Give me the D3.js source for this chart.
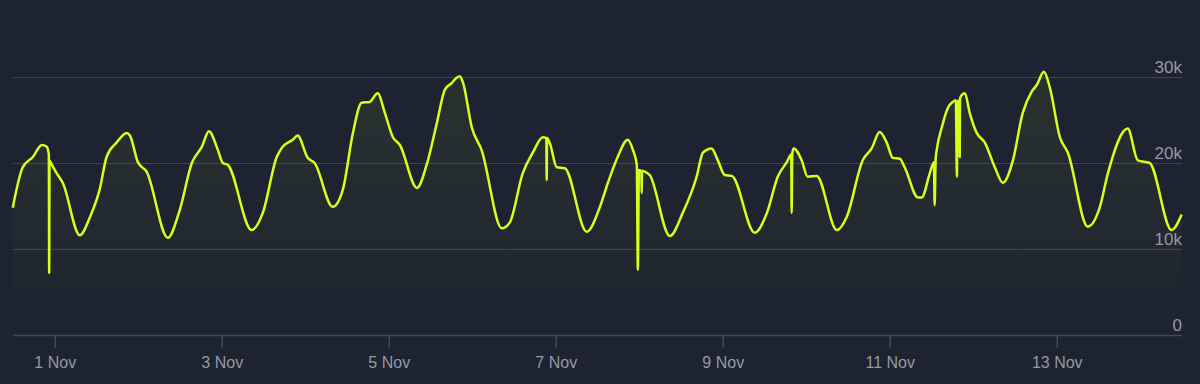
<!DOCTYPE html>
<html>
<head>
  <meta charset="utf-8">
  <script src="https://cdnjs.cloudflare.com/ajax/libs/d3/7.8.5/d3.min.js"></script>
  <title>players</title>
  <style>
    html, body { margin: 0; padding: 0; background: #1d2331; }
    svg { display: block; }
  </style>
</head>
<body>
<script>
// hours after 1 Nov 00:00, and players (thousands)
var horas = [-12.07,-9.2,-6.3,-3.7,-2.3,-1.7,-1.6,-1.5,-1.24,0.57,2.3,7.2,10.1,12.9,14.9,17.8,20.7,21.6,23.9,26.4,
  32.5,35.9,39.4,42.3,44.3,46.9,48.3,49.7,56.6,59.8,63.8,65.5,68.4,69.8,72.7,74.7,79.9,82.8,85.7,88.2,
  90.5,92.8,94.9,97.2,99.2,104.1,106.9,109.8,112.1,114.1,115.5,116.4,117.3,119.9,122.7,128.5,130.8,134.5,137.4,140.3,
  141.3,141.4,141.5,142.3,144.3,146.6,152.9,156.7,159.0,161.8,164.7,166.2,167.3,167.6,167.9,168.6,168.7,168.8,169.6,171.0,
  176.8,180.5,184.5,186.3,188.8,190.6,192.6,194.6,201.2,204.7,207.8,210.4,211.7,211.8,212.0,212.4,214.7,216.4,219.0,224.8,
  227.6,232.2,234.8,237.1,239.1,240.9,242.9,244.3,248.1,249.2,251.5,252.7,252.9,253.2,253.5,255.0,256.7,258.1,259.0,259.3,
  259.5,259.9,260.1,260.2,260.7,261.6,263.0,265.0,267.3,270.2,272.5,275.4,278.2,280.8,282.3,284.3,286.0,288.9,291.2,296.9,
  300.4,302.7,308.4,311.3,314.7,321.0,323.9];
var jugadores = [14.8,19.5,20.7,22.1,21.9,21.0,7.2,20.3,20.1,18.8,17.7,11.6,13.7,16.9,20.7,22.4,23.5,23.2,20.1,19.0,
  11.3,14.5,20.0,21.9,23.7,21.5,20.0,19.8,12.2,14.2,20.7,21.9,22.7,23.2,20.6,20.0,14.9,16.9,23.5,27.0,
  27.1,28.1,25.8,23.0,22.1,17.1,19.8,24.6,28.5,29.3,29.9,30.1,29.4,24.1,21.5,12.4,13.1,18.8,21.2,23.0,
  22.9,18.0,22.9,22.3,19.5,19.4,12.0,14.9,17.7,20.7,22.7,21.5,19.8,7.6,19.2,19.0,16.5,19.1,19.0,18.6,
  11.5,14.2,18.4,21.2,21.7,20.3,18.6,18.5,11.9,14.2,18.4,20.1,21.0,14.2,21.2,21.7,20.3,18.4,18.5,12.2,
  13.7,20.3,21.7,23.6,22.4,20.6,20.5,19.5,16.0,16.0,18.8,20.1,15.1,20.5,21.5,24.2,26.4,27.1,27.3,18.4,
  27.2,27.2,20.7,27.5,27.9,28.1,25.8,23.5,22.4,19.5,17.7,20.3,25.8,28.3,29.1,30.6,28.8,23.0,21.2,12.6,
  14.9,18.8,24.0,20.3,20.0,12.2,14.0];
var ticksY = [0, 10, 20, 30];
var etiquetasY = ["0", "10k", "20k", "30k"];
var diasX = [1, 3, 5, 7, 9, 11, 13];

var inicio = new Date(2023, 10, 1);
var datos = horas.map(function(h, i) {
  return { t: new Date(inicio.getTime() + h * 3600000), v: jugadores[i] };
});

var W = 1200, H = 384;
var svg = d3.select("body").append("svg").attr("width", W).attr("height", H);

var x = d3.scaleTime()
  .domain([new Date(inicio.getTime() - 12 * 3600000), new Date(inicio.getTime() + (13 * 24 + 12) * 3600000)])
  .range([13, 1182]);
var y = d3.scaleLinear().domain([0, 30]).range([335, 77]);

var defs = svg.append("defs");
var grad = defs.append("linearGradient").attr("id", "relleno").attr("x1", 0).attr("y1", 0).attr("x2", 0).attr("y2", 1);
grad.append("stop").attr("offset", "0%").attr("stop-color", "#d6ff1a").attr("stop-opacity", 0.07);
grad.append("stop").attr("offset", "100%").attr("stop-color", "#d6ff1a").attr("stop-opacity", 0.0);

// grid
svg.selectAll(".grid").data(ticksY.slice(1)).enter().append("line")
  .attr("x1", 13).attr("x2", 1182)
  .attr("y1", function(d) { return y(d) + 0.5; })
  .attr("y2", function(d) { return y(d) + 0.5; })
  .attr("stroke", "#3b4354").attr("stroke-width", 1);

// area + line
var area = d3.area().x(function(d) { return x(d.t); }).y0(y(0)).y1(function(d) { return y(d.v); })
  .curve(d3.curveMonotoneX);
var linea = d3.line().x(function(d) { return x(d.t); }).y(function(d) { return y(d.v); })
  .curve(d3.curveMonotoneX);

svg.append("path").datum(datos).attr("d", area).attr("fill", "url(#relleno)");
svg.append("path").datum(datos).attr("d", linea)
  .attr("fill", "none").attr("stroke", "#d8ff1c").attr("stroke-width", 2.5)
  .attr("stroke-linejoin", "round");

// x axis
var ejeX = d3.axisBottom(x)
  .tickValues(diasX.map(function(d) { return new Date(2023, 10, d); }))
  .tickFormat(d3.timeFormat("%-d Nov"))
  .tickSize(13).tickPadding(9);
var gx = svg.append("g").attr("transform", "translate(0," + y(0) + ")").call(ejeX);
gx.select(".domain").attr("d", "M13,0.5H1182").attr("stroke", "#3c4b64").attr("stroke-width", 1.5);
gx.selectAll(".tick line").attr("stroke", "#3c4b64").attr("stroke-width", 1.5);
gx.selectAll("text").attr("fill", "#939aa6").attr("font-size", 16)
  .attr("font-family", "'Liberation Sans', Arial, sans-serif");

// y labels
svg.selectAll(".ylab").data(ticksY).enter().append("text")
  .attr("x", 1182)
  .attr("y", function(d) { return y(d) - 4; })
  .attr("text-anchor", "end")
  .attr("fill", "#939aa6").attr("font-size", 17)
  .attr("font-family", "'Liberation Sans', Arial, sans-serif")
  .text(function(d, i) { return etiquetasY[i]; });
</script>
</body>
</html>
